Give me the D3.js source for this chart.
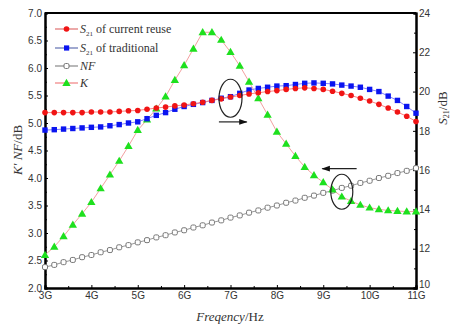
<!DOCTYPE html>
<html>
<head>
<meta charset="utf-8">
<script src="https://cdn.jsdelivr.net/npm/d3@7"></script>
<style>
    body { margin: 0; background: #fff; }
    .tick text { font-family: "Liberation Sans", Arial, sans-serif; font-size: 10px; fill: #333; }
    .serif { font-family: "Liberation Serif", "Times New Roman", serif; fill: #333; }
</style>
</head>
<body>
<svg id="Chart" width="452" height="327"></svg>
<script>
// frequency in GHz, one point every 0.2 GHz
const freq = [3.0, 3.2, 3.4, 3.6, 3.8, 4.0, 4.2, 4.4, 4.6, 4.8, 5.0, 5.2, 5.4, 5.6, 5.8, 6.0, 6.2, 6.4, 6.6, 6.8,
    7.0, 7.2, 7.4, 7.6, 7.8, 8.0, 8.2, 8.4, 8.6, 8.8, 9.0, 9.2, 9.4, 9.6, 9.8, 10.0, 10.2, 10.4, 10.6, 10.8, 11.0];

// S21 (right axis, dB)
const s21Reuse = [18.93, 18.93, 18.93, 18.93, 18.93, 18.96, 18.96, 18.96, 18.99, 19.02, 19.04, 19.10, 19.16, 19.21,
    19.27, 19.32, 19.38, 19.46, 19.55, 19.63, 19.72, 19.80, 19.88, 19.94, 20.00, 20.05, 20.11, 20.16, 20.19, 20.16,
    20.11, 20.02, 19.91, 19.80, 19.66, 19.52, 19.35, 19.16, 18.96, 18.74, 18.48];
const s21Trad = [18.04, 18.06, 18.09, 18.12, 18.15, 18.18, 18.20, 18.26, 18.32, 18.40, 18.46, 18.62, 18.79, 18.93,
    19.10, 19.24, 19.35, 19.44, 19.55, 19.66, 19.74, 19.91, 20.08, 20.16, 20.22, 20.28, 20.30, 20.36, 20.42, 20.44,
    20.42, 20.39, 20.33, 20.28, 20.22, 20.11, 20.00, 19.77, 19.55, 19.24, 18.90];

// NF and K (left axis)
const nf = [2.38, 2.42, 2.47, 2.51, 2.56, 2.60, 2.65, 2.69, 2.74, 2.78, 2.83, 2.87, 2.92, 2.96, 3.01, 3.05, 3.10,
    3.14, 3.19, 3.23, 3.28, 3.32, 3.37, 3.41, 3.46, 3.50, 3.55, 3.59, 3.64, 3.68, 3.73, 3.77, 3.82, 3.86, 3.91, 3.95,
    4.00, 4.04, 4.09, 4.13, 4.18];
const kFactor = [2.60, 2.75, 2.94, 3.15, 3.35, 3.56, 3.81, 4.06, 4.31, 4.58, 4.87, 5.06, 5.26, 5.48, 5.78, 6.05,
    6.35, 6.65, 6.65, 6.51, 6.29, 6.04, 5.75, 5.45, 5.15, 4.84, 4.62, 4.40, 4.20, 4.05, 3.92, 3.79, 3.66, 3.58, 3.51,
    3.46, 3.43, 3.41, 3.40, 3.39, 3.39];

const xTicks = [3, 4, 5, 6, 7, 8, 9, 10, 11];
const xTickLabels = ["3G", "4G", "5G", "6G", "7G", "8G", "9G", "10G", "11G"];
const leftTicks = [2.0, 2.5, 3.0, 3.5, 4.0, 4.5, 5.0, 5.5, 6.0, 6.5, 7.0];
const rightTicks = [10, 12, 14, 16, 18, 20, 22, 24];

const svg = d3.select("svg#Chart");
const m = { left: 45, right: 416, top: 13, bottom: 288 };

const xScale = d3.scaleLinear().domain([3, 11]).range([m.left, m.right]);
const yLeft = d3.scaleLinear().domain([2, 7]).range([m.bottom, m.top]);
const yRight = d3.scaleLinear().domain([10, 24]).range([m.bottom, m.top]);

// minor ticks first, majors drawn on top
svg.append("g")
    .attr("transform", `translate(0,${m.bottom})`)
    .call(d3.axisTop(xScale).tickValues(d3.range(3.5, 11, 1)).tickSize(2).tickFormat(""));
svg.append("g")
    .attr("transform", `translate(${m.right},0)`)
    .call(d3.axisLeft(yRight).tickValues(d3.range(11, 24, 2)).tickSize(2).tickFormat(""));
svg.append("g")
    .attr("transform", `translate(${m.left},0)`)
    .call(d3.axisRight(yLeft).tickValues(d3.range(2.25, 7, 0.5)).tickSize(2).tickFormat(""));

const xAxis = svg.append("g")
    .attr("transform", `translate(0,${m.bottom})`)
    .call(d3.axisTop(xScale).tickValues(xTicks).tickSize(3).tickFormat((d, i) => xTickLabels[i]));
xAxis.selectAll(".tick text").attr("y", 4).attr("dy", "0.71em");

const leftAxis = svg.append("g")
    .attr("transform", `translate(${m.left},0)`)
    .call(d3.axisRight(yLeft).tickValues(leftTicks).tickSize(3).tickFormat(d3.format(".1f")));
leftAxis.selectAll(".tick text").attr("x", -3).attr("text-anchor", "end");

const rightAxis = svg.append("g")
    .attr("transform", `translate(${m.right},0)`)
    .call(d3.axisLeft(yRight).tickValues(rightTicks).tickSize(3));
rightAxis.selectAll(".tick text").attr("x", 3).attr("text-anchor", "start");
// the bottom "10" sits just above the 11G label, as in the original
rightAxis.selectAll(".tick text").filter(d => d === 10).attr("dy", "-0.1em");

svg.selectAll(".domain").attr("stroke", "#000").attr("stroke-width", 2);
svg.selectAll(".tick line").attr("stroke", "#000");

// top border
svg.append("line")
    .attr("x1", m.left).attr("x2", m.right)
    .attr("y1", m.top).attr("y2", m.top)
    .attr("stroke", "#000").attr("stroke-width", 2);

const plot = svg.append("g");

function drawLine(values, yScale, color) {
    const line = d3.line()
        .x((d, i) => xScale(freq[i]))
        .y(d => yScale(d));
    plot.append("path")
        .datum(values)
        .attr("fill", "none")
        .attr("stroke", color)
        .attr("stroke-width", 1)
        .attr("d", line);
}

drawLine(nf, yLeft, "#999");
drawLine(kFactor, yLeft, "#f3a0a0");
drawLine(s21Trad, yRight, "#8080ff");
drawLine(s21Reuse, yRight, "#ff8080");

const tri = d3.symbol().type(d3.symbolTriangle).size(30);

plot.selectAll(".nf").data(nf).enter()
    .append("rect")
    .attr("x", (d, i) => xScale(freq[i]) - 2.5)
    .attr("y", d => yLeft(d) - 2.5)
    .attr("width", 5).attr("height", 5).attr("rx", 1.5)
    .attr("fill", "#fff").attr("stroke", "#777").attr("stroke-width", 1);

plot.selectAll(".k").data(kFactor).enter()
    .append("path")
    .attr("d", tri)
    .attr("transform", (d, i) => `translate(${xScale(freq[i])},${yLeft(d) + 0.5})`)
    .attr("fill", "#1ee01e");

plot.selectAll(".trad").data(s21Trad).enter()
    .append("rect")
    .attr("x", (d, i) => xScale(freq[i]) - 2.7)
    .attr("y", d => yRight(d) - 2.7)
    .attr("width", 5.4).attr("height", 5.4)
    .attr("fill", "#0a14f0");

plot.selectAll(".reuse").data(s21Reuse).enter()
    .append("circle")
    .attr("cx", (d, i) => xScale(freq[i]))
    .attr("cy", d => yRight(d))
    .attr("r", 2.8)
    .attr("fill", "#f01414");

// ellipses and arrows pointing to the axes
const ann = svg.append("g").attr("fill", "none").attr("stroke", "#222").attr("stroke-width", 1.2);
ann.append("ellipse").attr("cx", xScale(7.0)).attr("cy", yLeft(5.45)).attr("rx", 11.5).attr("ry", 19);
ann.append("ellipse").attr("cx", xScale(9.4)).attr("cy", yLeft(3.75)).attr("rx", 11).attr("ry", 17.5);

svg.append("defs").append("marker")
    .attr("id", "head").attr("viewBox", "0 0 10 10").attr("refX", 9).attr("refY", 5)
    .attr("markerWidth", 7).attr("markerHeight", 7).attr("orient", "auto")
    .append("path").attr("d", "M0,1.5L10,5L0,8.5Z").attr("fill", "#111");

ann.append("line")
    .attr("x1", xScale(6.75)).attr("x2", xScale(7.35))
    .attr("y1", yLeft(5.02)).attr("y2", yLeft(5.02))
    .attr("marker-end", "url(#head)");
ann.append("line")
    .attr("x1", xScale(9.72)).attr("x2", xScale(8.98))
    .attr("y1", yLeft(4.17)).attr("y2", yLeft(4.17))
    .attr("marker-end", "url(#head)");

// legend
const legendRows = [
    { name: "of current reuse", sub: true, color: "#f01414", line: "#e07070", shape: "circle" },
    { name: "of traditional", sub: true, color: "#0a14f0", line: "#6070b0", shape: "square" },
    { name: "NF", sub: false, color: "#777", line: "#888", shape: "open" },
    { name: "K", sub: false, color: "#1ee01e", line: "#f08080", shape: "tri" }
];
const legendY = [29, 48, 66, 83];

const legend = svg.append("g");
legendRows.forEach((row, i) => {
    const g = legend.append("g").attr("transform", `translate(55,${legendY[i]})`);
    g.append("line").attr("x1", 0).attr("x2", 23).attr("stroke", row.line).attr("stroke-width", 1.2);
    if (row.shape === "circle") {
        g.append("circle").attr("cx", 11.5).attr("r", 2.8).attr("fill", row.color);
    } else if (row.shape === "square") {
        g.append("rect").attr("x", 9).attr("y", -2.6).attr("width", 5.2).attr("height", 5.2).attr("fill", row.color);
    } else if (row.shape === "open") {
        g.append("rect").attr("x", 9).attr("y", -2.5).attr("width", 5).attr("height", 5).attr("rx", 1.5)
            .attr("fill", "#fff").attr("stroke", row.color);
    } else {
        g.append("path").attr("d", tri).attr("transform", "translate(11.5,0.5)").attr("fill", row.color);
    }
    const t = g.append("text").attr("class", "serif").attr("x", 25).attr("y", 4).attr("font-size", 12);
    if (row.sub) {
        t.append("tspan").attr("font-style", "italic").text("S");
        t.append("tspan").attr("font-size", 7).attr("dy", 3).text("21");
        t.append("tspan").attr("dy", -3).text(" " + row.name);
    } else {
        t.append("tspan").attr("font-style", "italic").text(row.name);
    }
});

// axis titles
const xTitle = svg.append("text").attr("class", "serif")
    .attr("x", 230).attr("y", 321).attr("text-anchor", "middle").attr("font-size", 13);
xTitle.append("tspan").attr("font-style", "italic").text("Freqency");
xTitle.append("tspan").text("/Hz");

const yTitle = svg.append("text").attr("class", "serif")
    .attr("transform", "translate(22,150) rotate(-90)").attr("text-anchor", "middle").attr("font-size", 13);
yTitle.append("tspan").attr("font-style", "italic").text("K′ NF");
yTitle.append("tspan").text("/dB");

const y2Title = svg.append("text").attr("class", "serif")
    .attr("transform", "translate(447,108) rotate(-90)").attr("text-anchor", "middle").attr("font-size", 13);
y2Title.append("tspan").attr("font-style", "italic").text("S");
y2Title.append("tspan").attr("font-size", 8).attr("dy", 2).text("21");
y2Title.append("tspan").attr("dy", -2).text("/dB");
</script>
</body>
</html>
